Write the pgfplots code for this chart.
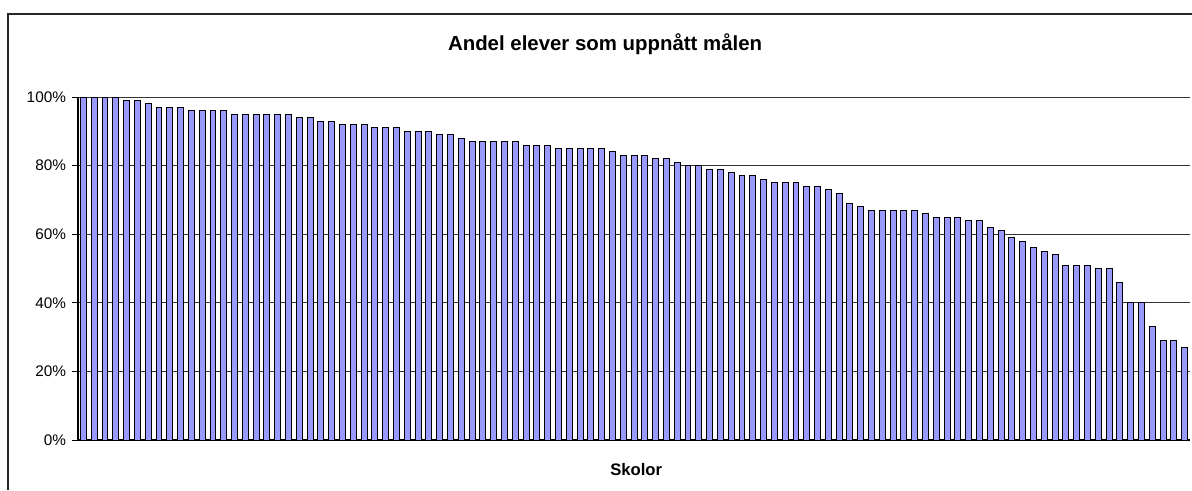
\documentclass[border=0pt]{standalone}
\usepackage{pgfplots}
\usepackage{pgfplotstable}
\pgfplotsset{compat=1.18}
\usepackage{fontspec}
\setmainfont{Liberation Sans}
\definecolor{barblue}{HTML}{9999FF}
\pgfplotstableread{
x y
1 100
2 100
3 100
4 100
5 99
6 99
7 98
8 97
9 97
10 97
11 96
12 96
13 96
14 96
15 95
16 95
17 95
18 95
19 95
20 95
21 94
22 94
23 93
24 93
25 92
26 92
27 92
28 91
29 91
30 91
31 90
32 90
33 90
34 89
35 89
36 88
37 87
38 87
39 87
40 87
41 87
42 86
43 86
44 86
45 85
46 85
47 85
48 85
49 85
50 84
51 83
52 83
53 83
54 82
55 82
56 81
57 80
58 80
59 79
60 79
61 78
62 77
63 77
64 76
65 75
66 75
67 75
68 74
69 74
70 73
71 72
72 69
73 68
74 67
75 67
76 67
77 67
78 67
79 66
80 65
81 65
82 65
83 64
84 64
85 62
86 61
87 59
88 58
89 56
90 55
91 54
92 51
93 51
94 51
95 50
96 50
97 46
98 40
99 40
100 33
101 29
102 29
103 27
}\datatable
\begin{document}
\begin{tikzpicture}
\path[use as bounding box] (0,0) rectangle (894pt,367.5pt);
\draw[line width=0.8pt, black!85] (6pt,0) -- (6pt,357pt) -- (894pt,357pt);
\begin{axis}[
  at={(58.5pt,37.5pt)}, anchor=south west,
  scale only axis, width=834pt, height=257.25pt,
  xmin=0.5, xmax=103.5, ymin=0, ymax=100,
  axis x line*=bottom, axis y line*=left,
  axis line style={black, line width=0.8pt, -},
  xtick=\empty,
  ytick={0,20,40,60,80,100},
  yticklabels={0\%,20\%,40\%,60\%,80\%,100\%},
  tick align=outside, major tick length=4.5pt,
  tick style={black, line width=0.7pt},
  yticklabel style={font=\fontsize{11.5}{13}\selectfont, xshift=-1pt},
  ymajorgrids, grid style={black!80, line width=0.7pt},
  title={Andel elever som uppnått målen},
  title style={font=\bfseries\fontsize{15.3}{18}\selectfont, at={(0.474,1)}, anchor=base, yshift=29.25pt},
  xlabel={Skolor},
  xlabel style={font=\bfseries\fontsize{12.5}{14}\selectfont, at={(0.502,0)}, anchor=base, yshift=-26.5pt},
  clip=false,
]
\addplot[ybar, bar width=0.55, fill=barblue, draw=black, line width=0.7pt] table[x=x,y=y] {\datatable};
\end{axis}
\end{tikzpicture}
\end{document}
